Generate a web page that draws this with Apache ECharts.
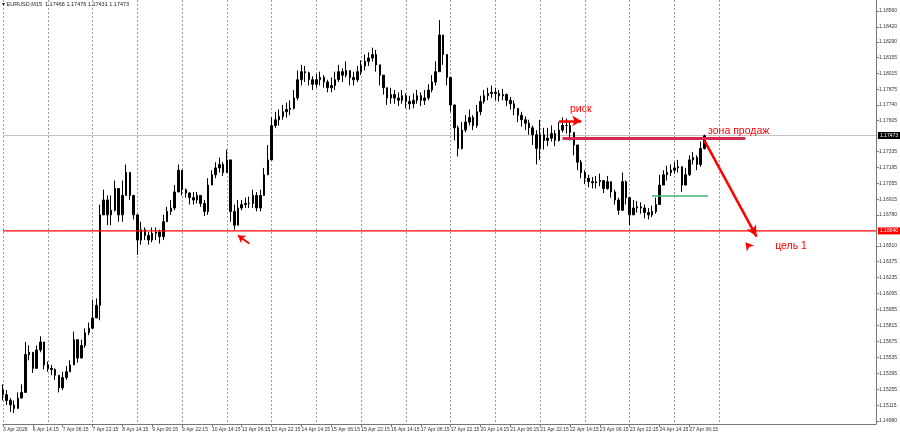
<!DOCTYPE html>
<html>
<head>
<meta charset="utf-8">
<script src="https://cdn.jsdelivr.net/npm/echarts@6/dist/echarts.min.js"></script>
<style>
html,body{margin:0;padding:0;background:#fff;}
#chart{width:900px;height:435px;}
</style>
</head>
<body>
<div id="chart"></div>
<script>
// ---- data ----
const headerText = '\u25BE EURUSD,M15  1.17466 1.17476 1.17431 1.17473';
const xTickLabels = ['3 Apr 2026','6 Apr 14:15','7 Apr 06:15','7 Apr 22:15','8 Apr 14:15','9 Apr 06:15','9 Apr 22:15','10 Apr 14:15','13 Apr 06:15','13 Apr 22:15','14 Apr 14:15','15 Apr 06:15','15 Apr 22:15','16 Apr 14:15','17 Apr 06:15','17 Apr 22:15','20 Apr 14:15','21 Apr 06:15','21 Apr 22:15','22 Apr 14:15','23 Apr 06:15','23 Apr 22:15','24 Apr 14:15','27 Apr 06:15'];
const yTickValues = [1.18560,1.18420,1.18290,1.18155,1.18015,1.17875,1.17740,1.17605,1.17335,1.17195,1.17055,1.16915,1.16780,1.16510,1.16375,1.16235,1.16095,1.15955,1.15815,1.15675,1.15535,1.15395,1.15255,1.15115,1.14980];

const firstOpen = 1.1525;
const closes = [
1.1521,1.1516,1.1512,1.1509,1.1518,1.1523,1.1556,1.1558,1.1544,1.1560,
1.1567,1.1547,1.1544,1.1543,1.1538,1.1527,1.1536,1.1541,1.1547,1.1569,
1.1553,1.1564,1.1575,1.1579,1.1588,1.1599,1.1678,1.1691,1.1678,1.1682,
1.1701,1.1678,1.1695,1.1715,1.1695,1.1678,1.1656,1.1665,1.1660,1.1656,
1.1662,1.1663,1.1659,1.1672,1.1681,1.1684,1.1698,1.1717,1.1700,1.1697,
1.1693,1.1691,1.1695,1.1688,1.1681,1.1704,1.1713,1.1719,1.1722,1.1715,
1.1726,1.1681,1.1669,1.1684,1.1687,1.1688,1.1688,1.1695,1.1684,1.1695,
1.1713,1.1726,1.1756,1.1761,1.1764,1.1768,1.1770,1.1771,1.1780,1.1796,
1.1803,1.1802,1.1796,1.1792,1.1796,1.1798,1.1794,1.1789,1.1791,1.1796,
1.1803,1.1800,1.1804,1.1798,1.1796,1.1803,1.1808,1.1812,1.1815,1.1818,
1.1809,1.1800,1.1789,1.1780,1.1783,1.1780,1.1778,1.1782,1.1777,1.1775,
1.1778,1.1782,1.1778,1.1780,1.1787,1.1794,1.1803,1.1835,1.1818,1.1798,
1.1774,1.1754,1.1736,1.1752,1.1759,1.1763,1.1756,1.1768,1.1777,1.1782,
1.1784,1.1785,1.1784,1.1782,1.1783,1.1778,1.1775,1.1771,1.1765,1.1761,
1.1758,1.1754,1.1748,1.1736,1.1748,1.1743,1.1745,1.1749,1.1743,1.1752,
1.1756,1.1756,1.1750,1.1739,1.1724,1.1715,1.1710,1.1707,1.1706,1.1707,
1.1708,1.1701,1.1707,1.1698,1.1691,1.1682,1.1707,1.1693,1.1678,1.1684,
1.1685,1.1684,1.1680,1.1678,1.1681,1.1687,1.1704,1.1713,1.1715,1.1717,
1.1719,1.1720,1.1704,1.1713,1.1726,1.1728,1.1722,1.1736,1.1747];
const highs = [
1.1530,1.1525,1.1518,1.1516,1.1523,1.1530,1.1567,1.1564,1.1556,1.1564,
1.1572,1.1564,1.1550,1.1547,1.1544,1.1538,1.1541,1.1546,1.1551,1.1576,
1.1569,1.1569,1.1579,1.1584,1.1604,1.1605,1.1687,1.1700,1.1695,1.1695,
1.1708,1.1701,1.1708,1.1722,1.1715,1.1695,1.1678,1.1672,1.1667,1.1663,
1.1667,1.1667,1.1665,1.1678,1.1685,1.1691,1.1704,1.1722,1.1717,1.1701,
1.1698,1.1698,1.1698,1.1695,1.1691,1.1710,1.1717,1.1724,1.1728,1.1724,
1.1735,1.1687,1.1687,1.1691,1.1691,1.1693,1.1694,1.1700,1.1698,1.1700,
1.1719,1.1739,1.1763,1.1768,1.1770,1.1774,1.1776,1.1778,1.1787,1.1804,
1.1809,1.1808,1.1803,1.1799,1.1801,1.1803,1.1800,1.1796,1.1798,1.1803,
1.1809,1.1806,1.1812,1.1804,1.1803,1.1808,1.1813,1.1818,1.1820,1.1824,
1.1822,1.1809,1.1800,1.1789,1.1789,1.1787,1.1785,1.1787,1.1784,1.1782,
1.1784,1.1787,1.1785,1.1787,1.1792,1.1800,1.1812,1.1848,1.1835,1.1818,
1.1798,1.1774,1.1756,1.1759,1.1765,1.1770,1.1765,1.1774,1.1782,1.1787,
1.1789,1.1791,1.1789,1.1787,1.1788,1.1784,1.1781,1.1778,1.1771,1.1768,
1.1764,1.1761,1.1756,1.1752,1.1761,1.1754,1.1754,1.1756,1.1752,1.1759,
1.1763,1.1762,1.1759,1.1750,1.1739,1.1726,1.1717,1.1713,1.1711,1.1712,
1.1714,1.1708,1.1712,1.1707,1.1700,1.1693,1.1715,1.1708,1.1693,1.1691,
1.1690,1.1689,1.1687,1.1684,1.1686,1.1693,1.1713,1.1717,1.1721,1.1722,
1.1724,1.1726,1.1720,1.1719,1.1730,1.1733,1.1730,1.1742,1.1748];
const lows = [
1.1516,1.1512,1.1506,1.1505,1.1512,1.1518,1.1525,1.1551,1.1540,1.1544,
1.1558,1.1543,1.1541,1.1538,1.1534,1.1523,1.1525,1.1534,1.1541,1.1547,
1.1549,1.1553,1.1562,1.1573,1.1582,1.1591,1.1586,1.1678,1.1669,1.1669,
1.1681,1.1672,1.1672,1.1695,1.1691,1.1674,1.1643,1.1652,1.1656,1.1652,
1.1654,1.1656,1.1653,1.1656,1.1672,1.1678,1.1682,1.1698,1.1695,1.1693,
1.1687,1.1687,1.1688,1.1685,1.1677,1.1678,1.1704,1.1710,1.1715,1.1712,
1.1715,1.1672,1.1665,1.1678,1.1682,1.1684,1.1684,1.1684,1.1681,1.1681,
1.1695,1.1713,1.1726,1.1754,1.1756,1.1761,1.1763,1.1765,1.1770,1.1778,
1.1791,1.1794,1.1791,1.1787,1.1789,1.1791,1.1789,1.1785,1.1785,1.1787,
1.1794,1.1794,1.1798,1.1791,1.1791,1.1794,1.1800,1.1804,1.1808,1.1812,
1.1803,1.1791,1.1783,1.1774,1.1775,1.1775,1.1773,1.1775,1.1771,1.1770,
1.1771,1.1775,1.1773,1.1774,1.1778,1.1785,1.1791,1.1804,1.1809,1.1791,
1.1768,1.1743,1.1729,1.1735,1.1750,1.1756,1.1752,1.1754,1.1765,1.1775,
1.1778,1.1780,1.1778,1.1777,1.1778,1.1773,1.1770,1.1765,1.1759,1.1755,
1.1752,1.1748,1.1739,1.1722,1.1726,1.1735,1.1738,1.1742,1.1738,1.1742,
1.1750,1.1749,1.1743,1.1730,1.1717,1.1710,1.1705,1.1702,1.1701,1.1701,
1.1703,1.1697,1.1700,1.1693,1.1687,1.1678,1.1682,1.1687,1.1669,1.1678,
1.1680,1.1679,1.1675,1.1674,1.1676,1.1679,1.1687,1.1704,1.1708,1.1712,
1.1714,1.1715,1.1698,1.1704,1.1712,1.1722,1.1717,1.1720,1.1735];

// levels and annotations
const supportLevel = 1.16640;
const currentPrice = 1.17473;
const sellZone = {from: 150, to: 199, price: 1.1745};
const greenLevel = {from: 174, to: 189, price: 1.1695};
const targetArrow = {from: [188, 1.1743], to: [202, 1.1659]};
const riskArrow = {from: [149, 1.1760], to: [155, 1.1760]};
const smallArrow = {from: [66, 1.1653], to: [63, 1.1660]};
const arrowHead = [199, 1.1654];
const texts = [
  {text: 'риск', at: [152, 1.1770]},
  {text: 'зона продаж', at: [189, 1.1751]},
  {text: 'цель 1', at: [207, 1.1651]}
];

// ---- build ----
const slotCount = 235;
const categories = [];
for (let i = 0; i < slotCount; i++) {
  categories.push(i % 8 === 0 && xTickLabels[i / 8] ? xTickLabels[i / 8] : '');
}
const ohlc = closes.map((c, i) => {
  const o = i === 0 ? firstOpen : closes[i - 1];
  const h = Math.max(highs[i], o, c);
  const l = Math.min(lows[i], o, c);
  return [o, c, l, h];
});
const labelTick = (i) => i % 8 === 0 && i / 8 < xTickLabels.length;
const RED = '#ff0000';
const lastSlot = slotCount - 1;

function levelSeries(name, value, color, boxColor, z, width) {
  return {
    name: name,
    type: 'line',
    z: z,
    silent: true,
    symbol: 'none',
    color: color,
    data: [[0, value], [lastSlot, value]],
    lineStyle: {color: color, width: width, type: 'solid'},
    endLabel: {show: true, distance: 2, formatter: value.toFixed(5),
               backgroundColor: boxColor, color: '#fff', fontSize: 5, padding: [1, 2]}
  };
}

const chart = echarts.init(document.getElementById('chart'), null, {renderer: 'canvas'});
chart.setOption({
  animation: false,
  backgroundColor: '#ffffff',
  textStyle: {fontFamily: 'Liberation Sans, Arial, sans-serif'},
  title: {
    text: headerText, left: 2, top: 1, padding: 0,
    textStyle: {fontSize: 5.5, fontWeight: 'normal', color: '#222'}
  },
  grid: {left: 1, right: 19, top: 0, bottom: 11},
  xAxis: {
    type: 'category',
    data: categories,
    boundaryGap: false,
    axisLine: {show: true, onZero: false, lineStyle: {color: '#777', width: 1}},
    axisTick: {show: true, interval: labelTick, length: 3, lineStyle: {color: '#777'}},
    axisLabel: {interval: labelTick, align: 'left', fontSize: 5, color: '#333', margin: 3},
    splitLine: {
      show: true,
      interval: (i) => i % 12 === 0 && i <= 192,
      lineStyle: {color: '#9a9a9a', type: [2, 2], width: 1}
    }
  },
  yAxis: {
    type: 'value',
    position: 'right',
    min: 1.14954,
    max: 1.18656,
    splitLine: {show: false},
    axisLine: {show: true, onZero: false, lineStyle: {color: '#777', width: 1}},
    axisTick: {show: true, customValues: yTickValues, length: 3, lineStyle: {color: '#777'}},
    axisLabel: {customValues: yTickValues, formatter: (v) => v.toFixed(5), fontSize: 5, color: '#333', margin: 3}
  },
  series: [
    levelSeries('current', currentPrice, '#c4c4c4', '#000', 1, 1),
    levelSeries('support', supportLevel, RED, RED, 3, 1.2),
    {
    type: 'candlestick',
    data: ohlc,
    z: 2,
    barWidth: 2,
    itemStyle: {color: '#000', color0: '#000', borderColor: '#000', borderColor0: '#000', borderWidth: 1},
    markLine: {
      silent: true,
      symbol: ['none', 'none'],
      animation: false,
      data: [
        [{coord: [sellZone.from, sellZone.price], lineStyle: {color: '#d42a4e', width: 3, type: 'solid'}, label: {show: false}},
         {coord: [sellZone.to, sellZone.price]}],
        [{coord: [greenLevel.from, greenLevel.price], lineStyle: {color: '#3cb371', width: 1.5, type: 'solid'}, label: {show: false}},
         {coord: [greenLevel.to, greenLevel.price]}],
        [{coord: targetArrow.from, symbol: 'none', lineStyle: {color: RED, width: 2.5, type: 'solid'}, label: {show: false}},
         {coord: targetArrow.to, symbol: 'arrow', symbolSize: [8, 11]}],
        [{coord: riskArrow.from, symbol: 'none', lineStyle: {color: RED, width: 2.5, type: 'solid'}, label: {show: false}},
         {coord: riskArrow.to, symbol: 'arrow', symbolSize: [8, 9]}],
        [{coord: smallArrow.from, symbol: 'none', lineStyle: {color: RED, width: 2, type: 'solid'}, label: {show: false}},
         {coord: smallArrow.to, symbol: 'arrow', symbolSize: [7, 7]}]
      ]
    },
    markPoint: {
      silent: true,
      animation: false,
      data: texts.map(t => ({
        coord: t.at, symbol: 'circle', symbolSize: 0,
        label: {show: true, position: 'right', distance: 0, formatter: t.text, color: RED, fontSize: 10.5, fontFamily: 'Liberation Sans, Arial, sans-serif'}
      })).concat([{
        coord: arrowHead, symbol: 'arrow', symbolSize: [7, 8], symbolRotate: 40,
        itemStyle: {color: RED}, label: {show: false}
      }])
    }
  }]
});
</script>
</body>
</html>
